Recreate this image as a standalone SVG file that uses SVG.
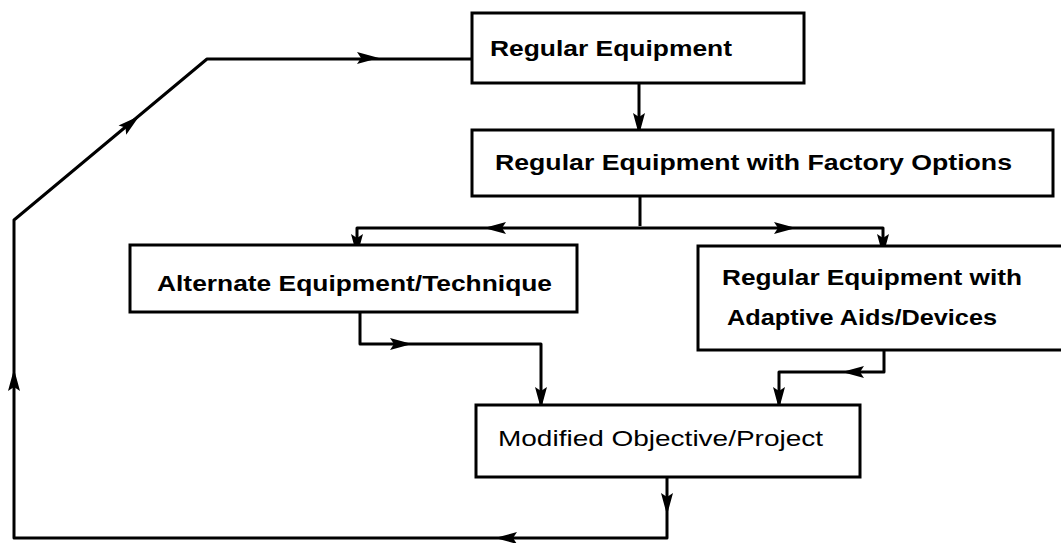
<svg xmlns="http://www.w3.org/2000/svg" xmlns:xlink="http://www.w3.org/1999/xlink" width="1061" height="543" viewBox="0 0 1061 543">
<style>
.box{fill:#fff;stroke:#000;stroke-width:3}
.lbl{font-family:"Liberation Sans",Arial,sans-serif;font-size:22px;font-weight:bold;fill:#000}
.lbl2{font-family:"Liberation Sans",Arial,sans-serif;font-size:22px;font-weight:normal;fill:#000}
.wire{fill:none;stroke:#000;stroke-width:3;stroke-linejoin:round}
</style>
<defs>
<path id="ah" d="M3,0 L-19,-6 L-15,0 L-19,6 Z" fill="#000"/>
</defs>
<rect width="1061" height="543" fill="#fff"/>
<g id="connectors">
<path class="wire" d="M667,477 V538 H14 V220 L207,59 H472"/>
<path class="wire" d="M639,83 V131"/>
<path class="wire" d="M640,196 V226 M357,245 V228 H883 V245"/>
<path class="wire" d="M360,312 V344 H541 V404"/>
<path class="wire" d="M884,350 V372 H779 V404"/>
<use xlink:href="#ah" transform="translate(667,512) rotate(90)"/>
<use xlink:href="#ah" transform="translate(498,538) rotate(180)"/>
<use xlink:href="#ah" transform="translate(14,372) rotate(-90)"/>
<use xlink:href="#ah" transform="translate(137,118) rotate(-39.7)"/>
<use xlink:href="#ah" transform="translate(376,58)"/>
<use xlink:href="#ah" transform="translate(639,132) rotate(90)"/>
<use xlink:href="#ah" transform="translate(487,228) rotate(180)"/>
<use xlink:href="#ah" transform="translate(793,228)"/>
<use xlink:href="#ah" transform="translate(357,253) rotate(90)"/>
<use xlink:href="#ah" transform="translate(883,253) rotate(90)"/>
<use xlink:href="#ah" transform="translate(409,344)"/>
<use xlink:href="#ah" transform="translate(541,406) rotate(90)"/>
<use xlink:href="#ah" transform="translate(845,372) rotate(180)"/>
<use xlink:href="#ah" transform="translate(779,406) rotate(90)"/>
</g>
<g id="regular-equipment">
<rect class="box" x="472" y="13" width="332" height="70"/>
<text class="lbl" x="490" y="56" textLength="242" lengthAdjust="spacingAndGlyphs">Regular Equipment</text>
</g>
<g id="factory-options">
<rect class="box" x="472" y="130" width="581" height="66"/>
<text class="lbl" x="495" y="170" textLength="517" lengthAdjust="spacingAndGlyphs">Regular Equipment with Factory Options</text>
</g>
<g id="alternate">
<rect class="box" x="130" y="245" width="447" height="67"/>
<text class="lbl" x="157" y="291" textLength="395" lengthAdjust="spacingAndGlyphs">Alternate Equipment/Technique</text>
</g>
<g id="adaptive">
<rect class="box" x="698" y="246" width="380" height="104"/>
<text class="lbl" x="722" y="285" textLength="300" lengthAdjust="spacingAndGlyphs">Regular Equipment with</text>
<text class="lbl" x="727" y="325" textLength="270" lengthAdjust="spacingAndGlyphs">Adaptive Aids/Devices</text>
</g>
<g id="modified">
<rect class="box" x="476" y="405" width="384" height="72"/>
<text class="lbl2" x="498" y="446" textLength="325" lengthAdjust="spacingAndGlyphs">Modified Objective/Project</text>
</g>
</svg>
